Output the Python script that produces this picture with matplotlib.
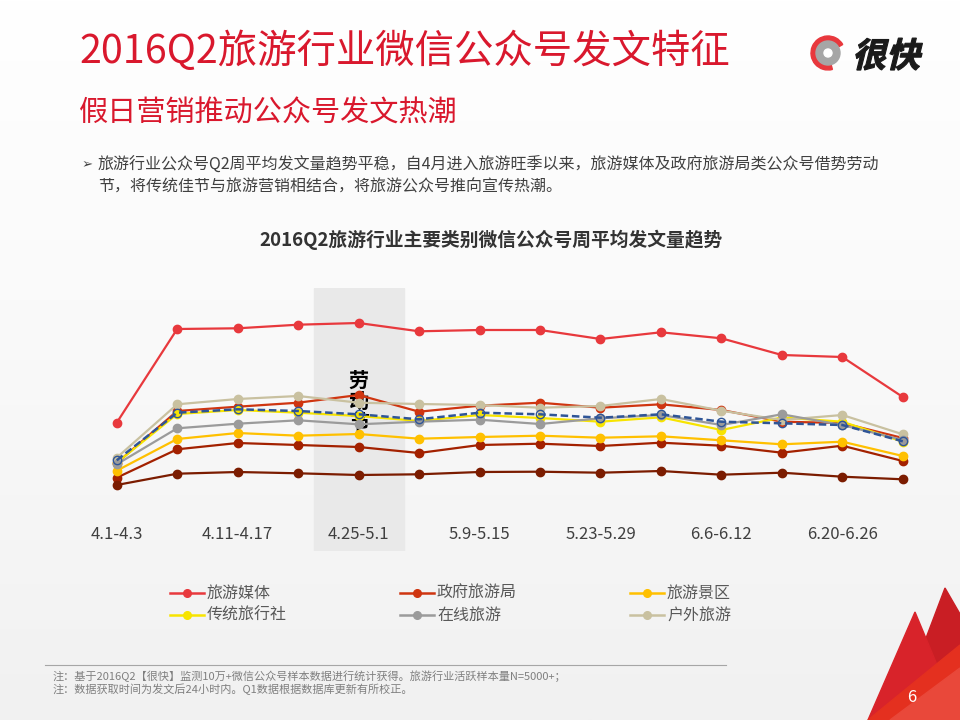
import numpy as np
import matplotlib.pyplot as plt
from matplotlib.patches import Polygon, Circle, Wedge, PathPatch
from matplotlib.textpath import TextPath
from matplotlib.font_manager import FontProperties
from matplotlib.transforms import Affine2D
from matplotlib.colors import LinearSegmentedColormap

plt.rcParams['font.family'] = ['Noto Sans CJK SC', 'DejaVu Sans']

# 周次
weeks = ['4.1-4.3', '4.4-4.10', '4.11-4.17', '4.18-4.24', '4.25-5.1', '5.2-5.8', '5.9-5.15',
         '5.16-5.22', '5.23-5.29', '5.30-6.5', '6.6-6.12', '6.13-6.19', '6.20-6.26', '6.27-6.30']

# 各类别周平均发文量
media = [127.3, 221, 221.7, 225.3, 227, 218.7, 220, 220, 211, 217.7, 211.7, 195, 193, 153]
gov = [87, 139, 143.3, 147.3, 155, 138.3, 144.3, 147.3, 142.3, 145.7, 140, 128.3, 127, 112]
scenic = [79.3, 111, 117, 114.3, 116, 111.3, 113, 114.3, 112.3, 113.7, 109.7, 105.7, 108.3, 94]
agency = [87.3, 136, 140, 137.3, 134, 129, 135, 132, 128.3, 132.7, 120, 132.5, 128.3, 108.3]
online = [85.7, 121.7, 126.3, 129.7, 125.7, 128.3, 130.3, 126, 131.7, 135, 125, 135.7, 125, 110]
outdoor = [92.3, 145.7, 151, 154, 147.3, 146, 145, 142.3, 144, 151, 139.3, 130, 135, 115.7]
other1 = [72.3, 100.7, 107, 105, 103, 97, 105, 106.3, 104, 107.3, 104.3, 97.3, 104.3, 89]
other2 = [65, 76.3, 78, 76.7, 75, 75.7, 78, 78.3, 77.3, 79, 75.3, 77.3, 73.3, 70.7]
average = [89.7, 137.3, 140.7, 139, 135.7, 130.7, 137.3, 135.7, 132.3, 135.7, 128.3, 126.7, 125, 108.7]

names = ['旅游媒体', '政府旅游局', '旅游景区', '传统旅行社', '在线旅游', '户外旅游']
colors = ['#e8393d', '#cf3510', '#ffc000', '#f7e400', '#9b9b9b', '#c9c1a0']

fig = plt.figure(figsize=(9.6, 7.2), dpi=100)

# 背景层(像素坐标)
bg = fig.add_axes([0, 0, 1, 1])
bg.set_xlim(0, 960)
bg.set_ylim(720, 0)
bg.axis('off')
grad = np.linspace(0, 1, 256).reshape(-1, 1)
bg.imshow(grad, extent=[0, 960, 720, 0], aspect='auto', zorder=0,
          cmap=LinearSegmentedColormap.from_list('bgc', ['#ffffff', '#f9f9f9', '#f1f1f1']))

red = '#d9182d'
bg.text(79, 52, '2016Q2旅游行业微信公众号发文特征', fontsize=28.4, color=red, va='center', ha='left')
bg.text(79, 113, '假日营销推动公众号发文热潮', fontsize=21, color=red, va='center', ha='left')
bg.text(82, 165, '➢', fontsize=9.5, color='#404040', va='center', ha='left',
        family=['DejaVu Sans'])
bg.text(98, 165, '旅游行业公众号Q2周平均发文量趋势平稳，自4月进入旅游旺季以来，旅游媒体及政府旅游局类公众号借势劳动',
        fontsize=11.5, color='#404040', va='center', ha='left')
bg.text(98, 187, '节，将传统佳节与旅游营销相结合，将旅游公众号推向宣传热潮。',
        fontsize=11.5, color='#404040', va='center', ha='left')
bg.text(491, 240, '2016Q2旅游行业主要类别微信公众号周平均发文量趋势', fontsize=13.5,
        fontweight='bold', color='#333333', va='center', ha='center')

# logo
bg.add_patch(Wedge((828, 53), 17, 75, 330, width=6, color='#e8383d', zorder=3))
bg.add_patch(Circle((828, 53), 12, color='#a6a6a6', zorder=3))
bg.add_patch(Circle((828, 53), 4, color='white', zorder=4))
tp = TextPath((0, 0), '很快', size=34, prop=FontProperties(family='Noto Sans CJK SC', weight='heavy'))
tr = Affine2D().skew_deg(14, 0).scale(1, -1).translate(852, 67)
bg.add_patch(PathPatch(tr.transform_path(tp), color='#1a1a1a', lw=0.8, zorder=3))

# 图例
leg_pos = [(170, 593), (400, 593), (630, 593), (170, 615), (400, 615), (630, 615)]
for (lx, ly), nm, c in zip(leg_pos, names, colors):
    bg.plot([lx, lx + 34], [ly, ly], color=c, lw=1.8, zorder=3)
    bg.plot(lx + 17, ly, 'o', color=c, ms=5.5, zorder=3)
    bg.text(lx + 37, ly, nm, fontsize=11.5, color='#595959', va='center', ha='left')

# 注释
bg.plot([45, 726], [665, 665], color='#a6a6a6', lw=0.8)
bg.text(53, 676, '注：基于2016Q2【很快】监测10万+微信公众号样本数据进行统计获得。旅游行业活跃样本量N=5000+；',
        fontsize=8, color='#7f7f7f', va='center', ha='left')
bg.text(53, 689, '注：数据获取时间为发文后24小时内。Q1数据根据数据库更新有所校正。',
        fontsize=8, color='#7f7f7f', va='center', ha='left')

# 右下角三角
bg.add_patch(Polygon([(895, 720), (945, 588), (960, 614), (960, 720)], color='#c91e24', zorder=2))
bg.add_patch(Polygon([(868, 720), (915, 612), (960, 720)], color='#d8232a', zorder=2))
bg.add_patch(Polygon([(868, 720), (960, 645), (960, 720)], color='#e4301f', zorder=2))
bg.add_patch(Polygon([(890, 720), (960, 668), (960, 720)], color='#e9483a', zorder=2))
bg.text(912, 697, '6', fontsize=12, color='white', va='center', ha='center', zorder=3)

# 主图
ax = fig.add_axes([86.5 / 960, (720 - 551) / 720, (933 - 86.5) / 960, (551 - 288) / 720])
ax.patch.set_alpha(0)
x = np.arange(len(weeks))
ax.set_xlim(-0.5, len(weeks) - 0.5)
ax.set_ylim(-1, 262)
ax.axvspan(4 - 0.745, 4 + 0.745, color='#e9e9e9', zorder=0)
ax.text(4, 180, '劳\n动\n节', fontsize=14.5, fontweight='bold', color='black',
        ha='center', va='top', linespacing=1.0, zorder=1)

for s, c in [(other1, '#a32100'), (other2, '#7b1c00')]:
    ax.plot(x, s, color=c, lw=1.6, marker='o', ms=6, zorder=2)
for s, c in zip([gov, scenic, agency, outdoor, online, media],
                [colors[1], colors[2], colors[3], colors[5], colors[4], colors[0]]):
    ax.plot(x, s, color=c, lw=1.6, marker='o', ms=6, zorder=3)
ax.plot(x, average, color='#2f5597', lw=1.8, ls=(0, (3, 1.5)), marker='o', ms=6,
        mfc='none', mec='#2f5597', mew=1.0, zorder=4)

ax.set_xticks(x[::2])
ax.set_xticklabels(weeks[::2], fontsize=12, color='#404040')
ax.tick_params(axis='x', length=0, pad=-18)
ax.set_yticks([])
for sp in ax.spines.values():
    sp.set_visible(False)

fig.savefig('out.png', dpi=100)
